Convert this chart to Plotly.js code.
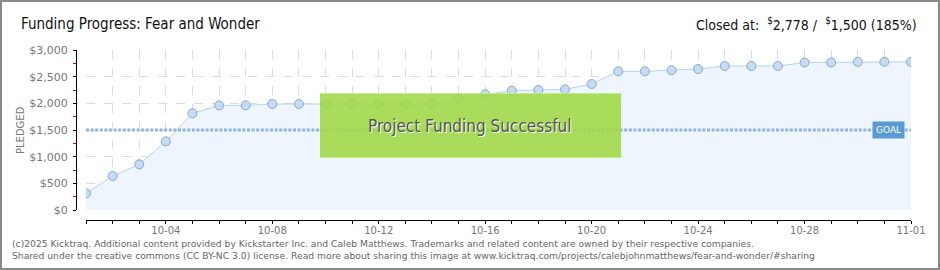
<!DOCTYPE html>
<html><head><meta charset="utf-8">
<script src="https://cdn.plot.ly/plotly-3.0.1.min.js"></script>
<style>
html,body{margin:0;padding:0;background:#fff;}
#chart{width:940px;height:270px;}
#frame{position:absolute;left:0;top:0;width:936px;height:266px;border:2px solid #8a8a8a;pointer-events:none;}
</style></head>
<body>
<div id="chart"></div>
<div id="frame"></div>
<script>
const year = "2024";
const days = ["10-01","10-02","10-03","10-04","10-05","10-06","10-07","10-08","10-09","10-10","10-11","10-12","10-13","10-14","10-15","10-16","10-17","10-18","10-19","10-20","10-21","10-22","10-23","10-24","10-25","10-26","10-27","10-28","10-29","10-30","10-31","11-01"];
const pledged = [313,637,856,1287,1812,1962,1962,1987,1987,1987,1987,1987,1987,1987,2088,2169,2238,2250,2262,2362,2600,2600,2619,2644,2700,2700,2700,2765,2765,2778,2778,2778];
const goal = 1500;
const closedAt = "2,778";
const goalText = "1,500";
const percent = "185%";
const yTicks = [0,500,1000,1500,2000,2500,3000];
const yTickLabels = ["$0","$500","$1,000","$1,500","$2,000","$2,500","$3,000"];
const yMinorTicks = [250,750,1250,1750,2250,2750];

const dates = days.map(d => year + "-" + d);
const goalLine = dates.map(() => goal);

const L = 76, R = 29, T = 50, B = 50, W = 940 - L - R, H = 270 - T - B;
const px = v => (v - L) / W;
const py = v => (270 - B - v) / H;

const gridc = "#dcdcdc";
const traces = [
  {x: dates, y: pledged, type: "scatter", mode: "lines+markers", fill: "tozeroy",
   fillcolor: "#eef5fd", line: {color: "#b5d3f2", width: 1},
   marker: {size: 9, color: "#c4dcf7", line: {color: "#8ea6c4", width: 1}}, hoverinfo: "skip"},
  {x: dates, y: goalLine, type: "scatter", mode: "lines",
   line: {color: "#8fb4e0", width: 3, dash: "3px,1.6px"}, hoverinfo: "skip"}
];

const layout = {
  width: 940, height: 270,
  margin: {l: L, r: R, t: T, b: B},
  paper_bgcolor: "#fff", plot_bgcolor: "rgba(0,0,0,0)",
  showlegend: false,
  font: {family: "DejaVu Sans", color: "#777"},
  xaxis: {
    type: "date", domain: [px(86), 1], anchor: "free", position: 0,
    range: [dates[0], dates[dates.length - 1]],
    tick0: year + "-10-04", dtick: 4 * 86400000, tickformat: "%m-%d",
    ticks: "outside", ticklen: 3, tickcolor: "#000", tickwidth: 1,
    showline: true, linecolor: "#000", linewidth: 1,
    showgrid: true, gridcolor: gridc, griddash: "dash", gridwidth: 1,
    tickfont: {size: 10, color: "#777", family: "DejaVu Sans"},
    ticklabelstandoff: -2,
    minor: {dtick: 86400000, ticks: "outside", ticklen: 3, tickcolor: "#000",
            showgrid: true, gridcolor: gridc, griddash: "dash"},
    zeroline: false, fixedrange: true
  },
  yaxis: {
    domain: [py(210), 1], anchor: "free", position: 0,
    range: [0, 3000], tickmode: "array", tickvals: yTicks, ticktext: yTickLabels,
    ticks: "outside", ticklen: 3, tickcolor: "#000",
    showline: true, linecolor: "#000", linewidth: 1,
    showgrid: true, gridcolor: gridc, griddash: "dash",
    tickfont: {size: 11, color: "#777", family: "DejaVu Sans"},
    ticklabelstandoff: 3,
    minor: {tickmode: "array", tickvals: yMinorTicks, ticks: "outside", ticklen: 3, tickcolor: "#e00000", showgrid: false},
    zeroline: false, fixedrange: true
  },
  shapes: [
    {type: "rect", xref: "paper", yref: "paper", x0: px(320), x1: px(621), y0: py(158), y1: py(93),
     fillcolor: "rgba(160,216,70,0.88)", line: {width: 0}, layer: "above"},
    {type: "line", xref: "paper", yref: "paper", x0: px(320), x1: px(621), y0: py(93.5), y1: py(93.5),
     line: {color: "rgba(200,240,140,0.9)", width: 1}, layer: "above"},
    {type: "line", xref: "paper", yref: "paper", x0: px(320), x1: px(621), y0: py(157.5), y1: py(157.5),
     line: {color: "rgba(200,240,140,0.9)", width: 1}, layer: "above"}
  ],
  annotations: [
    {text: "Funding Progress: Fear and Wonder", xref: "paper", yref: "paper", x: px(19), y: py(24),
     xanchor: "left", yanchor: "middle", showarrow: false,
     font: {family: "DejaVu Sans Condensed", size: 15, color: "#111"}},
    {text: "Closed at:  <sup>$</sup>" + closedAt + " /  <sup>$</sup>" + goalText + " (" + percent + ")",
     xref: "paper", yref: "paper", x: px(919), y: py(24), xanchor: "right", yanchor: "middle", showarrow: false,
     font: {family: "DejaVu Sans Condensed", size: 14, color: "#111"}},
    {text: "PLEDGED", xref: "paper", yref: "paper", x: px(20), y: py(130), textangle: -90,
     xanchor: "center", yanchor: "middle", showarrow: false,
     font: {family: "DejaVu Sans", size: 10, color: "#777"}},
    {text: "GOAL", xref: "paper", yref: "y", x: px(888), y: goal, xanchor: "center", yanchor: "middle",
     showarrow: false, bgcolor: "#5b9bd5", borderpad: 3,
     font: {family: "DejaVu Sans", size: 9, color: "#fff"}},
    {text: "Project Funding Successful", xref: "paper", yref: "paper", x: px(470), y: py(126),
     xanchor: "center", yanchor: "middle", showarrow: false,
     font: {family: "DejaVu Sans Condensed", size: 17, color: "#555", shadow: "1px 1px 0px #ffffff"}},
    {text: "(c)2025 Kicktraq. Additional content provided by Kickstarter Inc. and Caleb Matthews. Trademarks and related content are owned by their respective companies.",
     xref: "paper", yref: "paper", x: px(10), y: py(243), xanchor: "left", yanchor: "middle", showarrow: false,
     font: {family: "DejaVu Sans", size: 9.2, color: "#666"}},
    {text: "Shared under the creative commons (CC BY-NC 3.0) license. Read more about sharing this image at www.kicktraq.com/projects/calebjohnmatthews/fear-and-wonder/#sharing",
     xref: "paper", yref: "paper", x: px(10), y: py(256), xanchor: "left", yanchor: "middle", showarrow: false,
     font: {family: "DejaVu Sans", size: 9.2, color: "#666"}}
  ]
};

Plotly.newPlot("chart", traces, layout, {staticPlot: true, displayModeBar: false});
</script>
</body></html>
